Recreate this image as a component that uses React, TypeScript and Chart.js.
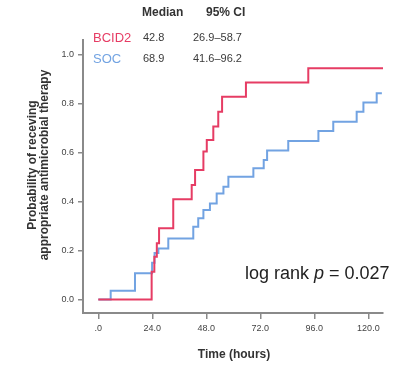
import React, { useEffect, useRef } from 'react';
import { Chart, registerables } from 'chart.js';

Chart.register(...registerables);

// Kaplan–Meier style cumulative probability (step changes at each time)
const bcid2Hours = [0, 23.7, 24.9, 26.0, 27.0, 33.3, 41.5, 43.0, 46.7, 48.2, 51.1, 53.3, 55.0, 65.6, 93.3, 126.5];
const bcid2Prob = [0, 0.114, 0.175, 0.23, 0.291, 0.41, 0.468, 0.53, 0.605, 0.652, 0.707, 0.768, 0.829, 0.887, 0.946, 0.946];

const socHours = [0, 5.5, 16.3, 23.9, 25.0, 26.7, 31.1, 42.2, 44.4, 46.7, 49.6, 52.6, 55.6, 57.8, 68.9, 73.5, 75.0, 84.4, 97.8, 104.4, 114.8, 117.8, 123.7, 126.0];
const socProb = [0, 0.036, 0.107, 0.15, 0.19, 0.209, 0.25, 0.298, 0.332, 0.366, 0.393, 0.434, 0.461, 0.502, 0.537, 0.57, 0.609, 0.648, 0.689, 0.727, 0.768, 0.805, 0.843, 0.843];

const xTickValues = [0, 24, 48, 72, 96, 120];
const yTickValues = [0, 0.2, 0.4, 0.6, 0.8, 1.0];

const groupLabels = ['BCID2', 'SOC'];
const groupMedians = ['42.8', '68.9'];
const groupCIs = ['26.9–58.7', '41.6–96.2'];
const groupColors = ['#e63c64', '#72a3e2'];

const yTitleLines = ['Probability of receving', 'appropriate antimicrobial therapy'];
const xTitle = 'Time (hours)';

const AXIS_COLOR = '#8a8a8a';
const FONT = '"Liberation Sans", Arial, sans-serif';

const toPoints = (xs: number[], ys: number[]) => xs.map((x, i) => ({ x, y: ys[i] }));

const annotatePlugin = {
  id: 'annotate',
  afterDraw(chart: any) {
    const ctx = chart.ctx as CanvasRenderingContext2D;
    ctx.save();
    ctx.textBaseline = 'middle';
    ctx.textAlign = 'left';

    // table header
    ctx.fillStyle = '#333';
    ctx.font = `bold 12px ${FONT}`;
    ctx.fillText('Median', 142, 13);
    ctx.fillText('95% CI', 206, 13);

    // table rows
    const rowY = [38, 59];
    groupLabels.forEach((lab, i) => {
      ctx.fillStyle = groupColors[i];
      ctx.font = `13px ${FONT}`;
      ctx.fillText(lab, 93, rowY[i]);
      ctx.fillStyle = '#3a3a3a';
      ctx.font = `11px ${FONT}`;
      ctx.fillText(groupMedians[i], 143, rowY[i]);
      ctx.fillText(groupCIs[i], 193, rowY[i]);
    });

    // log rank annotation
    ctx.fillStyle = '#222';
    ctx.textBaseline = 'alphabetic';
    const parts: [string, boolean][] = [['log rank ', false], ['p', true], [' = 0.027', false]];
    let x = 245;
    parts.forEach(([t, it]) => {
      ctx.font = `${it ? 'italic ' : ''}18px ${FONT}`;
      ctx.fillText(t, x, 279);
      x += ctx.measureText(t).width;
    });

    // x title
    ctx.textBaseline = 'middle';
    ctx.textAlign = 'center';
    ctx.fillStyle = '#333';
    ctx.font = `bold 12px ${FONT}`;
    ctx.fillText(xTitle, 234, 355);

    // y title (rotated)
    ctx.save();
    ctx.translate(33, 165);
    ctx.rotate(-Math.PI / 2);
    ctx.fillText(yTitleLines[0], 0, 0);
    ctx.fillText(yTitleLines[1], 0, 12);
    ctx.restore();

    ctx.restore();
  },
};

export default function App() {
  const ref = useRef<HTMLCanvasElement>(null);

  useEffect(() => {
    if (!ref.current) return;
    const chart = new Chart(ref.current, {
      type: 'line',
      data: {
        datasets: [
          {
            label: groupLabels[0],
            data: toPoints(bcid2Hours, bcid2Prob),
            borderColor: groupColors[0],
            borderWidth: 2,
            stepped: 'before',
            pointRadius: 0,
            fill: false,
          },
          {
            label: groupLabels[1],
            data: toPoints(socHours, socProb),
            borderColor: groupColors[1],
            borderWidth: 2,
            stepped: 'before',
            pointRadius: 0,
            fill: false,
          },
        ],
      },
      options: {
        animation: false,
        responsive: false,
        devicePixelRatio: 1,
        layout: { padding: { top: 40, right: 29, left: 0, bottom: 0 } },
        plugins: { legend: { display: false }, tooltip: { enabled: false } },
        scales: {
          x: {
            type: 'linear',
            min: -6.8,
            max: 126.5,
            afterBuildTicks: (s: any) => {
              s.ticks = xTickValues.map((v) => ({ value: v }));
            },
            afterFit: (s: any) => {
              s.height = 53;
            },
            grid: {
              display: true,
              drawOnChartArea: false,
              drawTicks: true,
              tickLength: 6,
              color: AXIS_COLOR,
              lineWidth: 1.5,
            },
            border: { display: true, color: AXIS_COLOR, width: 2 },
            ticks: {
              padding: 4,
              color: '#444',
              font: { family: FONT, size: 9 },
              maxRotation: 0,
              callback: (v: any) => (v === 0 ? '.0' : Number(v).toFixed(1)),
            },
          },
          y: {
            type: 'linear',
            min: -0.055,
            max: 1.061,
            afterBuildTicks: (s: any) => {
              s.ticks = yTickValues.map((v) => ({ value: v }));
            },
            afterFit: (s: any) => {
              s.width = 83;
            },
            grid: {
              display: true,
              drawOnChartArea: false,
              drawTicks: true,
              tickLength: 5,
              color: AXIS_COLOR,
              lineWidth: 1.5,
            },
            border: { display: true, color: AXIS_COLOR, width: 2 },
            ticks: {
              padding: 4,
              color: '#444',
              font: { family: FONT, size: 9 },
              callback: (v: any) => Number(v).toFixed(1),
            },
          },
        },
      },
      plugins: [annotatePlugin],
    });
    return () => chart.destroy();
  }, []);

  return (
    <div style={{ position: 'absolute', left: 0, top: 0, width: 412, height: 366, background: '#fff' }}>
      <canvas ref={ref} width={412} height={366} />
    </div>
  );
}
